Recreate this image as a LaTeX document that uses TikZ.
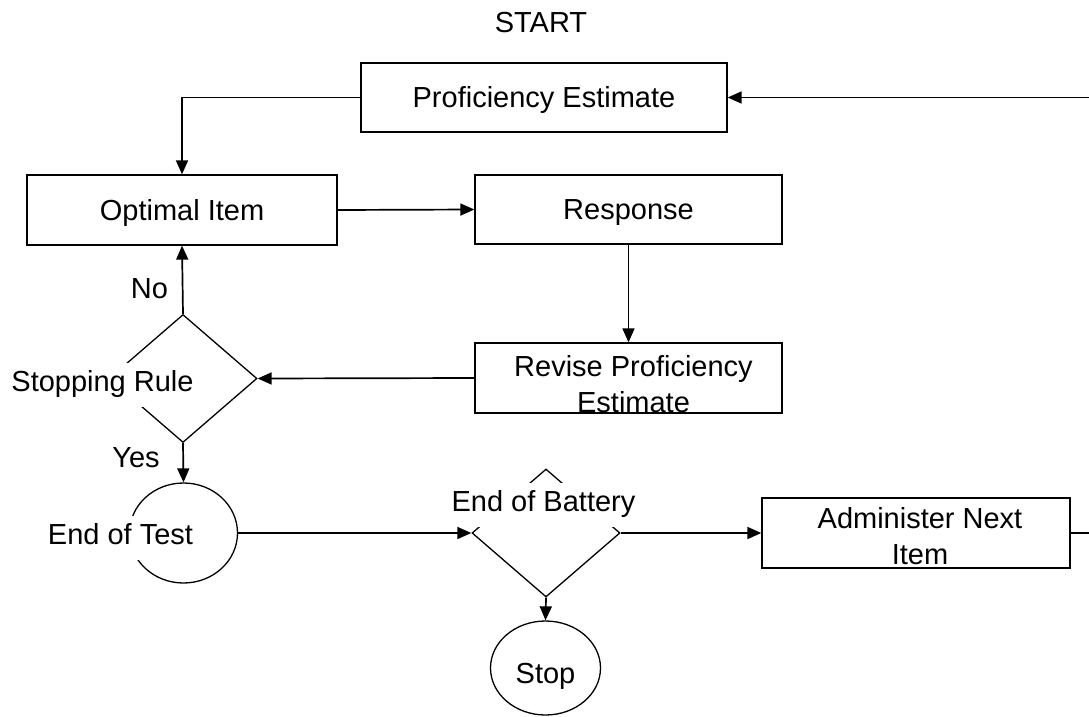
\documentclass[tikz,border=0pt]{standalone}
\usepackage{fontspec}
\setmainfont{Liberation Sans}
\usetikzlibrary{shapes.geometric,arrows.meta}
\begin{document}
\begin{tikzpicture}[x=1pt,y=-1pt,
  every node/.style={font=\fontsize{29}{35.5}\selectfont, inner sep=0pt},
  box/.style={draw, line width=1.3pt, rectangle, text height=20pt, text depth=0pt},
  dec/.style={draw, line width=1.3pt, diamond, minimum width=148pt, minimum height=128pt},
  term/.style={draw, line width=1.3pt, ellipse},
  band/.style={fill=white, text height=28pt, text depth=16pt, inner xsep=3pt, anchor=base},
  lbl/.style={anchor=base},
  arr/.style={line width=1.7pt, -{Triangle[length=14pt,width=12pt]}},
  ln/.style={line width=1.7pt}]
\useasboundingbox (0,0) rectangle (1089,717);

\node[lbl] (start) at (541,33) {START};
\node[box, minimum width=366pt, minimum height=69pt] (pe) at (544,97.5) {Proficiency Estimate};
\node[box, minimum width=310pt, minimum height=70pt] (opt) at (182,210) {Optimal Item};
\node[box, minimum width=307pt, minimum height=69pt] (resp) at (628.5,209.5) {Response};
\node[box, minimum width=307pt, minimum height=70pt] (rev) at (628.5,378) {};
\node[lbl, align=center] (revt) at (633.5,412) {Revise Proficiency\\Estimate};
\node[box, minimum width=308pt, minimum height=70pt] (ani) at (916,533) {};
\node[lbl, align=center] (anit) at (920,564) {Administer Next\\Item};

\node[dec] (sr) at (183,378.5) {};
\node[band] (srt) at (102.5,391) {Stopping Rule};
\node[term, minimum width=108pt, minimum height=100pt] (eot) at (183.5,533) {};
\node[band] (eott) at (120.5,544) {End of Test};
\node[dec] (eob) at (546,533) {};
\node[band] (eobt) at (543.5,511) {End of Battery};
\node[term, minimum width=110pt, minimum height=94pt, text height=30pt, text depth=0pt] (stop) at (545.5,668) {Stop};
\node[lbl] (no) at (149.5,298) {No};
\node[lbl] (yes) at (136,467) {Yes};
\coordinate (rtop) at (1089,97.5);
\coordinate (rbot) at (1089,533);

\draw[arr] (pe.west) -| (opt.north);
\draw[arr] (rtop) -- (pe.east);
\draw[arr] (opt.east) -- (resp.west);
\draw[arr] (resp.south) -- (rev.north);
\draw[arr] (rev.west) -- (sr.east);
\draw[arr] (sr.north) -- (opt.south);
\draw[arr] (sr.south) -- (eot.north);
\draw[arr] (eot.east) -- (eob.west);
\draw[arr] (eob.east) -- (ani.west);
\draw[arr] (eob.south) -- (stop.north);
\draw[ln] (ani.east) -- (rbot);
\end{tikzpicture}
\end{document}
